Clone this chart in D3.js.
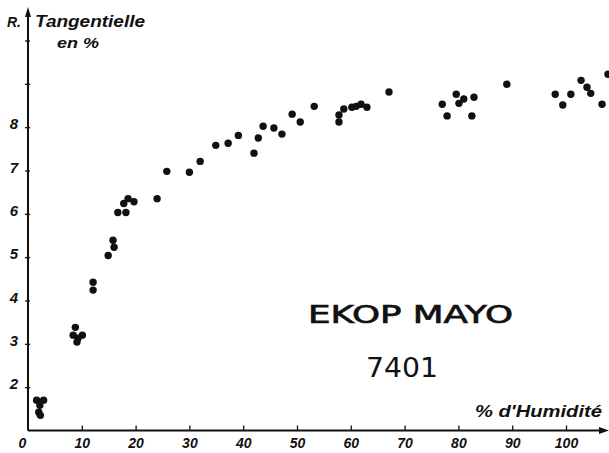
<!DOCTYPE html>
<html>
<head>
<meta charset="utf-8">
<script src="https://cdn.jsdelivr.net/npm/d3@7"></script>
<style>
  body { margin: 0; background: #fff; }
  text { fill: #111; }
</style>
</head>
<body>
<script>
// humidity (%) and tangential shrinkage (%)
let humidite = [1.6, 2.9, 2.2, 2.0, 2.3,
  8.8, 8.4, 10.1, 9.3, 9.1,
  12.1, 12.1, 14.9, 15.8, 16.0,
  16.7, 18.2, 17.8, 18.6, 19.7,
  24.0, 25.8, 30.0, 32.0,
  34.9, 37.2, 39.1, 42.0, 42.8, 43.7, 45.7, 47.2, 49.1, 50.6, 53.2,
  57.8, 57.8, 58.7, 60.2, 61.0, 61.9, 63.0, 67.1,
  77.0, 77.9, 79.6, 80.1, 81.0, 82.5, 82.9, 89.0,
  98.0, 99.4, 100.9, 102.8, 103.9, 104.6, 106.7, 107.8];
let retrait = [1.70, 1.70, 1.58, 1.42, 1.35,
  3.38, 3.20, 3.20, 3.13, 3.04,
  4.42, 4.24, 5.04, 5.39, 5.23,
  6.03, 6.03, 6.24, 6.35, 6.28,
  6.35, 6.98, 6.96, 7.21,
  7.58, 7.63, 7.81, 7.40, 7.75, 8.02, 7.98, 7.84, 8.30, 8.12, 8.48,
  8.28, 8.12, 8.42, 8.46, 8.48, 8.53, 8.46, 8.81,
  8.53, 8.26, 8.76, 8.55, 8.65, 8.26, 8.69, 8.99,
  8.76, 8.51, 8.76, 9.08, 8.92, 8.78, 8.53, 9.22];

let xTicks = [0, 10, 20, 30, 40, 50, 60, 70, 80, 90, 100];
let yTicks = [2, 3, 4, 5, 6, 7, 8, 9, 10];
let yLabels = [2, 3, 4, 5, 6, 7, 8];

let points = humidite.map((h, i) => ({h: h, r: retrait[i]}));

let width = 609, height = 453;

let svg = d3.select("body")
  .append("svg")
  .attr("width", width)
  .attr("height", height);

// scales (y axis starts at 1, where the x axis crosses)
let x = d3.scaleLinear().domain([0, 100]).range([28, 566]);
let y = d3.scaleLinear().domain([1, 10]).range([430.5, 40.5]);

let labelFont = "'Liberation Sans', Arial, sans-serif";

// x axis
let xaxis = d3.axisBottom(x)
  .tickValues(xTicks)
  .tickSize(-5)
  .tickPadding(8)
  .tickFormat(d3.format("d"));

let gx = svg.append("g")
  .attr("transform", "translate(0," + y(1) + ")")
  .call(xaxis);
gx.select(".domain").remove();
gx.selectAll(".tick line").attr("stroke", "#111").attr("stroke-width", 1.3);
gx.selectAll(".tick").filter(d => d === 0).select("line").remove();
gx.selectAll("text")
  .attr("fill", "#111")
  .style("font-family", labelFont)
  .style("font-style", "italic")
  .style("font-weight", "bold")
  .style("font-size", "14px")
  .attr("dx", d => d === 0 ? -6 : 0);

// y axis
let yaxis = d3.axisLeft(y)
  .tickValues(yTicks)
  .tickSize(3)
  .tickPadding(7)
  .tickFormat(d => yLabels.includes(d) ? d : "");

let gy = svg.append("g")
  .attr("transform", "translate(" + x(0) + ",0)")
  .call(yaxis);
gy.select(".domain").remove();
gy.selectAll(".tick line")
  .attr("x1", 2)
  .attr("x2", -3)
  .attr("stroke", "#111")
  .attr("stroke-width", 1.3);
gy.selectAll("text")
  .attr("fill", "#111")
  .attr("dy", "0.1em")
  .style("font-family", labelFont)
  .style("font-style", "italic")
  .style("font-weight", "bold")
  .style("font-size", "15px");

// axis lines with arrow heads
svg.append("line")
  .attr("x1", x(0)).attr("y1", y(1))
  .attr("x2", 602).attr("y2", y(1))
  .attr("stroke", "#111").attr("stroke-width", 2);
svg.append("path")
  .attr("d", "M609," + y(1) + " l-10,-3.5 l0,7 z")
  .attr("fill", "#111");

svg.append("line")
  .attr("x1", x(0)).attr("y1", y(1))
  .attr("x2", x(0)).attr("y2", 14)
  .attr("stroke", "#111").attr("stroke-width", 2);
svg.append("path")
  .attr("d", "M" + x(0) + ",7 l-3,10 l6,0 z")
  .attr("fill", "#111");

// points
svg.selectAll("circle")
  .data(points)
  .enter()
  .append("circle")
    .attr("cx", d => x(d.h))
    .attr("cy", d => y(d.r))
    .attr("r", 3.7)
    .style("fill", "#111");

// axis titles
let italic = (t, px, py, size, len) => svg.append("text")
  .attr("x", px).attr("y", py)
  .attr("textLength", len)
  .attr("lengthAdjust", "spacingAndGlyphs")
  .style("font-family", labelFont)
  .style("font-style", "italic")
  .style("font-weight", "bold")
  .style("font-size", size + "px")
  .text(t);

italic("R.", 7, 27, 14, 14);
italic("Tangentielle", 35, 27, 17, 110);
italic("en %", 57, 48, 15, 42);
italic("% d'Humidité", 475, 417, 17, 127);

// sample name
svg.append("text")
  .attr("x", 308).attr("y", 323)
  .attr("textLength", 205)
  .attr("lengthAdjust", "spacingAndGlyphs")
  .style("font-family", "'DejaVu Sans', sans-serif")
  .style("font-size", "24px")
  .style("stroke", "#111")
  .style("stroke-width", 0.7)
  .text("EKOP MAYO");

svg.append("text")
  .attr("x", 366).attr("y", 377)
  .attr("textLength", 72)
  .attr("lengthAdjust", "spacingAndGlyphs")
  .style("font-family", "'DejaVu Sans', sans-serif")
  .style("font-size", "27px")
  .text("7401");
</script>
</body>
</html>
